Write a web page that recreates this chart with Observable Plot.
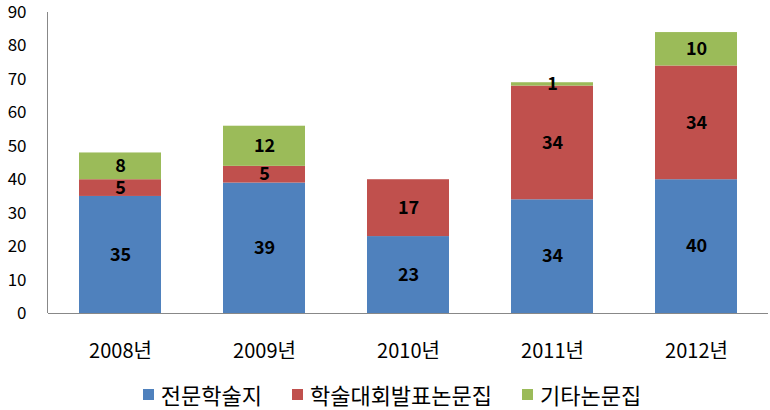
<!DOCTYPE html>
<html><head><meta charset="utf-8">
<script src="https://cdn.jsdelivr.net/npm/d3@7"></script>
<script src="https://cdn.jsdelivr.net/npm/@observablehq/plot@0.6"></script>
<style>
body{margin:0;background:#fff;font-family:"Noto Sans CJK KR","Noto Sans",sans-serif;}
#chart svg{overflow:visible;}
#legend{display:flex;justify-content:center;font-size:22px;height:48px;align-items:center;color:#000;padding-left:14px;}
#legend .it{display:flex;align-items:center;margin:0 15px;}
#legend .sw{width:11px;height:11px;margin-right:7px;}
</style></head>
<body><div id="chart"></div><div id="legend"></div>
<script>
const years = ["2008년","2009년","2010년","2011년","2012년"];
const seriesNames = ["전문학술지","학술대회발표논문집","기타논문집"];
const journal = [35,39,23,34,40];
const conference = [5,5,17,34,34];
const other = [8,12,0,1,10];
const colors = ["#4F81BD","#C0504D","#9BBB59"];
const yTicks = [0,10,20,30,40,50,60,70,80,90];

const seriesVals = [journal, conference, other];
const rows = [];
seriesNames.forEach((s,i)=>years.forEach((y,j)=>rows.push({year:y, series:s, value:seriesVals[i][j]})));

const plot = Plot.plot({
  width:770, height:370,
  marginTop:12, marginBottom:57, marginLeft:48, marginRight:2,
  style:{fontFamily:'"Noto Sans CJK KR","Noto Sans",sans-serif', background:"#fff"},
  x:{domain:years, paddingInner:0.43, paddingOuter:0.215, label:null},
  y:{domain:[0,90], label:null},
  color:{domain:seriesNames, range:colors},
  marks:[
    Plot.barY(rows, Plot.stackY({x:"year", y:"value", fill:"series", order:seriesNames})),
    Plot.text(rows.filter(d=>d.value>0), Plot.stackY({x:"year", y:"value", z:"series", order:seriesNames, text:d=>String(d.value), fontWeight:"bold", fontSize:18, fill:"#000"})),
    Plot.axisY({ticks:yTicks, tickSize:0, tickPadding:22, fontSize:17, fill:"#000", textAnchor:"end"}),
    Plot.axisX({tickSize:0, tickPadding:30, fontSize:20, fill:"#000"}),
    Plot.ruleY([0], {stroke:"#888"})
  ]
});
document.getElementById("chart").appendChild(plot);
d3.select(plot).append("line").attr("x1",47.5).attr("x2",47.5).attr("y1",12).attr("y2",313).attr("stroke","#888");

const lg = document.getElementById("legend");
seriesNames.forEach((s,i)=>{
  const it=document.createElement("div");it.className="it";
  const sw=document.createElement("div");sw.className="sw";sw.style.background=colors[i];
  const t=document.createElement("span");t.textContent=s;
  it.appendChild(sw);it.appendChild(t);lg.appendChild(it);
});
</script></body></html>
